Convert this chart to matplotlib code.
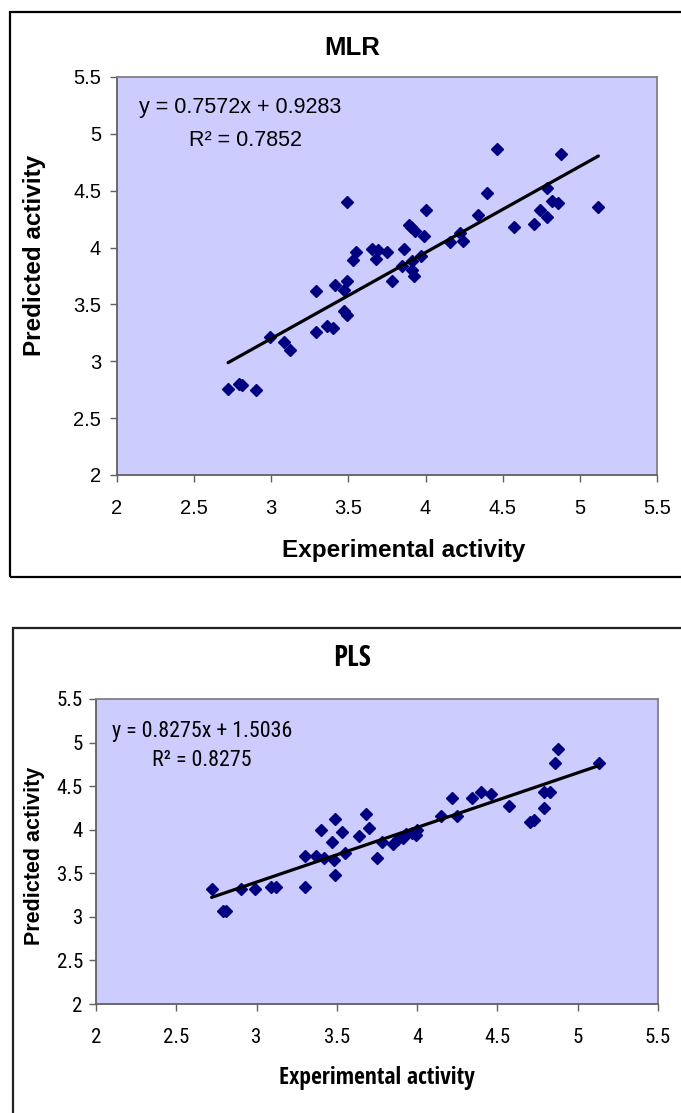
import matplotlib
matplotlib.use("Agg")
import matplotlib.pyplot as plt
from matplotlib.patches import Rectangle
from matplotlib import font_manager
from matplotlib.font_manager import FontProperties

# ---------------- data ----------------
mlr_exp = [2.72, 2.79, 2.81, 2.90, 2.99, 3.08, 3.12, 3.29, 3.29, 3.36,
           3.40, 3.41, 3.47, 3.49, 3.47, 3.49, 3.49, 3.53, 3.55, 3.65,
           3.68, 3.69, 3.75, 3.78, 3.85, 3.86, 3.89, 3.93, 3.905, 3.91,
           3.91, 3.925, 3.97, 3.99, 4.00, 4.16, 4.22, 4.24, 4.34, 4.40,
           4.46, 4.57, 4.70, 4.74, 4.79, 4.79, 4.82, 4.86, 4.88, 5.12]
mlr_pred = [2.76, 2.80, 2.79, 2.75, 3.21, 3.17, 3.10, 3.26, 3.62, 3.31,
            3.29, 3.67, 3.63, 3.71, 3.44, 3.41, 4.40, 3.89, 3.96, 3.99,
            3.90, 3.98, 3.96, 3.71, 3.84, 3.99, 4.20, 4.15, 4.18, 3.88,
            3.80, 3.75, 3.93, 4.10, 4.33, 4.05, 4.13, 4.06, 4.29, 4.48,
            4.87, 4.18, 4.21, 4.33, 4.27, 4.52, 4.41, 4.39, 4.82, 4.36]
# trend line as drawn in the chart
mlr_slope, mlr_intercept = 0.7572, 0.9283
mlr_eq = "y = 0.7572x + 0.9283"
mlr_r2 = "R\u00b2 = 0.7852"

pls_exp = [2.72, 2.79, 2.81, 2.90, 2.99, 3.09, 3.12, 3.30, 3.30, 3.37,
           3.40, 3.42, 3.47, 3.49, 3.48, 3.49, 3.53, 3.55, 3.64, 3.68,
           3.70, 3.75, 3.78, 3.85, 3.88, 3.91, 3.93, 3.97, 3.99, 4.00,
           4.15, 4.22, 4.25, 4.34, 4.40, 4.46, 4.57, 4.70, 4.73, 4.79,
           4.79, 4.83, 4.86, 4.88, 5.13]
pls_pred = [3.32, 3.07, 3.07, 3.32, 3.32, 3.34, 3.34, 3.34, 3.70, 3.70,
            4.00, 3.68, 3.86, 4.12, 3.65, 3.48, 3.97, 3.73, 3.93, 4.18,
            4.02, 3.68, 3.86, 3.84, 3.89, 3.90, 3.95, 3.96, 3.94, 4.00,
            4.16, 4.36, 4.16, 4.36, 4.43, 4.41, 4.27, 4.09, 4.11, 4.25,
            4.43, 4.43, 4.77, 4.93, 4.77]
# trend line as it is drawn in the chart
pls_line_slope, pls_line_intercept = 0.627, 1.518
pls_eq = "y = 0.8275x + 1.5036"
pls_r2 = "R\u00b2 = 0.8275"

tick_values = [2, 2.5, 3, 3.5, 4, 4.5, 5, 5.5]
tick_labels = ["2", "2.5", "3", "3.5", "4", "4.5", "5", "5.5"]

titles = ["MLR", "PLS"]
xlabel = "Experimental activity"
ylabel = "Predicted activity"

# ---------------- fonts ----------------
REG = ["Liberation Sans", "DejaVu Sans"]
CONDENSED = {"ultra-condensed", "extra-condensed", "condensed", "semi-condensed"}


def find_narrow(bold):
    prefs = ["Liberation Sans Narrow", "Arial Narrow", "Noto Sans", "Open Sans",
             "Roboto", "DejaVu Sans", "Lato", "Inter"]
    best = None
    for f in font_manager.fontManager.ttflist:
        if f.style != "normal":
            continue
        nm = f.name
        narrow = (str(f.stretch) in CONDENSED or "Narrow" in nm or "Condensed" in nm
                  or "Narrow" in f.fname or "Condensed" in f.fname)
        if not narrow:
            continue
        try:
            w = int(f.weight)
        except (TypeError, ValueError):
            w = {"bold": 700, "normal": 400, "regular": 400}.get(str(f.weight), 400)
        if bold and w < 600:
            continue
        if not bold and (w < 350 or w > 500):
            continue
        rank = len(prefs)
        for i, p in enumerate(prefs):
            if nm.startswith(p):
                rank = i
                break
        key = (rank, abs(w - (700 if bold else 400)))
        if best is None or key < best[0]:
            best = (key, f.fname)
    return best[1] if best else None


nar_reg = find_narrow(False)
nar_bold = find_narrow(True)
HAVE_NARROW = nar_reg is not None and nar_bold is not None


def nprop(size, bold=False):
    if HAVE_NARROW:
        return FontProperties(fname=nar_bold if bold else nar_reg, size=size)
    return FontProperties(family=REG, size=size * 0.88,
                          weight="bold" if bold else "normal")


W, H = 681, 1113
fig = plt.figure(figsize=(W / 100, H / 100), dpi=100)


def fx(px):
    return px / W


def fy(py):
    return 1 - py / H


PLOT_BG = "#CCCCFF"
MARK = "#000080"
SPINE = "#808080"

# chart borders
fig.add_artist(Rectangle((fx(10), fy(577)), fx(700) - fx(10), fy(12) - fy(577),
                         transform=fig.transFigure, fill=False, ec="black", lw=1.6))
fig.add_artist(Rectangle((fx(13), fy(1130)), fx(700) - fx(13), fy(628) - fy(1130),
                         transform=fig.transFigure, fill=False, ec="#222222", lw=1.6))


def make_axes(rect_px, exp, pred, slope, intercept, tick_prop, xpad, ypad):
    l, t, r, b = rect_px
    ax = fig.add_axes([fx(l), fy(b), fx(r) - fx(l), fy(t) - fy(b)])
    ax.set_facecolor(PLOT_BG)
    ax.set_xlim(2, 5.5)
    ax.set_ylim(2, 5.5)
    ax.set_xticks(tick_values)
    ax.set_xticklabels(tick_labels)
    ax.set_yticks(tick_values)
    ax.set_yticklabels(tick_labels)
    for s in ax.spines.values():
        s.set_color(SPINE)
        s.set_linewidth(1.3)
    ax.spines["left"].set_color("#606060")
    ax.spines["bottom"].set_color("#606060")
    ax.tick_params(axis="both", direction="out", length=5, width=1, color="#606060")
    ax.tick_params(axis="x", pad=xpad)
    ax.tick_params(axis="y", pad=ypad)
    for lab in ax.get_xticklabels() + ax.get_yticklabels():
        lab.set_fontproperties(tick_prop)
    ax.plot(exp, pred, linestyle="none", marker="D", markersize=6.3,
            color=MARK, markeredgecolor=MARK, zorder=3)
    x0, x1 = min(exp), max(exp)
    ax.plot([x0, x1], [slope * x0 + intercept, slope * x1 + intercept],
            color="black", lw=2.3, zorder=4, solid_capstyle="round")
    return ax


# ---------- top chart (MLR) ----------
make_axes((117, 77, 657, 475), mlr_exp, mlr_pred, mlr_slope, mlr_intercept,
          FontProperties(family=REG, size=14.5), 12.5, 6.5)
fig.text(fx(352), fy(48), titles[0], ha="center", va="center",
         family=REG, fontsize=18.5, fontweight="bold")
fig.text(fx(404), fy(550), xlabel, ha="center", va="center",
         family=REG, fontsize=17.5, fontweight="bold")
fig.text(fx(35), fy(255), ylabel, ha="center", va="center", rotation=90,
         family=REG, fontsize=17.5, fontweight="bold")
fig.text(fx(139), fy(108), mlr_eq, ha="left", va="center",
         family=REG, fontsize=15.5)
fig.text(fx(189), fy(140), mlr_r2, ha="left", va="center",
         family=REG, fontsize=15.5)

# ---------- bottom chart (PLS) ----------
make_axes((96, 699, 658, 1004), pls_exp, pls_pred, pls_line_slope, pls_line_intercept,
          nprop(15), 12, 4.5)
fig.text(fx(352), fy(659), titles[1], ha="center", va="center",
         fontproperties=nprop(21, bold=True))
fig.text(fx(377), fy(1078), xlabel, ha="center", va="center",
         fontproperties=nprop(17, bold=True))
fig.text(fx(35), fy(856), ylabel, ha="center", va="center", rotation=90,
         family=REG, fontsize=15.5, fontweight="bold")
fig.text(fx(112), fy(731), pls_eq, ha="left", va="center",
         fontproperties=nprop(15.8))
fig.text(fx(152), fy(760), pls_r2, ha="left", va="center",
         fontproperties=nprop(15.8))

fig.savefig("out.png", dpi=100, facecolor="white")
